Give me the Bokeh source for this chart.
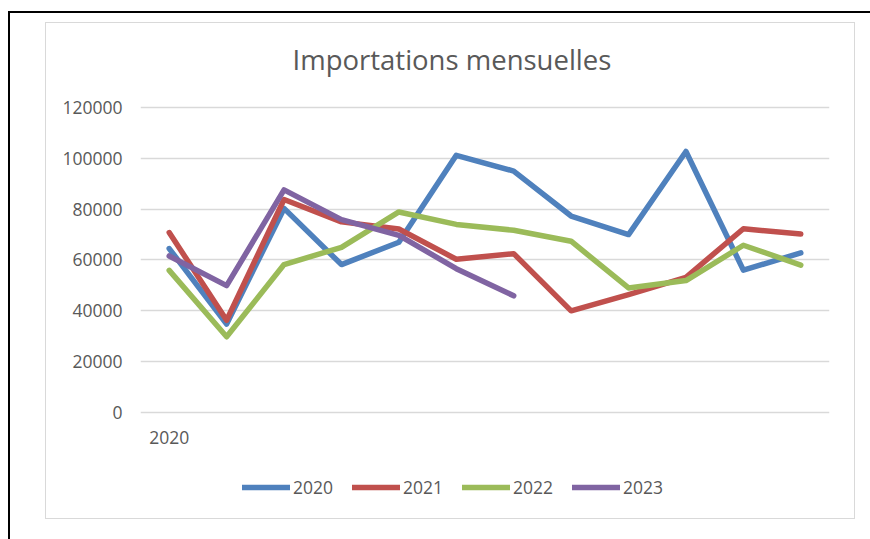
from bokeh.plotting import figure
from bokeh.models import Range1d, FixedTicker, Legend, LegendItem, InlineStyleSheet
from bokeh.embed import file_html
from bokeh.resources import INLINE

months = list(range(1, 13))
x_tick_labels = {1: "2020"}
y_ticks = [0, 20000, 40000, 60000, 80000, 100000, 120000]

years = ["2020", "2021", "2022", "2023"]
y2020 = [64500, 34800, 80300, 58200, 67000, 101200, 95000, 77300, 70000, 102700, 56000, 62800]
y2021 = [70800, 36300, 83800, 75000, 72200, 60300, 62500, 40000, 46400, 53200, 72300, 70200]
y2022 = [55900, 29800, 58200, 65000, 78900, 74000, 71700, 67400, 49000, 51900, 65800, 58000]
y2023 = [61600, 49900, 87600, 75900, 69700, 56600, 45900]
colors = ["#4F81BD", "#C0504D", "#9BBB59", "#8064A2"]

FONT = "Open Sans"
TXT = "#595959"

css = """
:host { position: relative; }
:host::before { content: ""; position: absolute; left: 8px; top: 11px; right: 0; bottom: 0;
  border-left: 2px solid #000; border-top: 2px solid #000; z-index: 50; pointer-events: none; }
:host::after { content: ""; position: absolute; left: 45px; top: 22px; width: 808px; height: 495px;
  border: 1.5px solid #d9d9d9; z-index: 50; pointer-events: none; }
"""

# plot area extends below the zero line to host the legend
p = figure(width=870, height=539, output_backend="svg", toolbar_location=None,
           x_range=Range1d(0.5, 12.5), y_range=Range1d(-38557, 121180),
           frame_width=689, frame_height=406,
           min_border_left=140, min_border_right=41, min_border_top=104, min_border_bottom=29,
           title="Importations mensuelles")
p.stylesheets = [InlineStyleSheet(css=css)]
p.background_fill_color = "white"
p.border_fill_color = "white"
p.outline_line_color = None

p.title.align = "left"
p.title.offset = 152
p.title.text_font = FONT
p.title.text_font_size = "27.5px"
p.title.text_font_style = "normal"
p.title.text_color = TXT
p.title.standoff = 54

p.xaxis.ticker = FixedTicker(ticks=months)
p.xaxis.major_label_overrides = {m: x_tick_labels.get(m, "") for m in months}
p.yaxis.ticker = FixedTicker(ticks=y_ticks)
for ax in (p.xaxis, p.yaxis):
    ax.axis_line_color = None
    ax.major_tick_line_color = None
    ax.minor_tick_line_color = None
    ax.major_tick_out = 0
    ax.major_tick_in = 0
    ax.major_label_text_font = FONT
    ax.major_label_text_font_size = "17.5px"
    ax.major_label_text_color = TXT
p.yaxis.major_label_standoff = 18
p.xaxis.major_label_standoff = -80
p.yaxis.formatter.use_scientific = False

p.xgrid.grid_line_color = None
p.ygrid.grid_line_color = "#d9d9d9"
p.ygrid.grid_line_width = 1.5

series = [y2020, y2021, y2022, y2023]
items = []
for name, ys, c in zip(years, series, colors):
    r = p.line(months[:len(ys)], ys, line_color=c, line_width=5.5,
               line_join="round", line_cap="round")
    items.append(LegendItem(label=name, renderers=[r]))

legend = Legend(items=items, orientation="horizontal", location=(102, 11),
                glyph_width=48, glyph_height=24, label_height=24, label_standoff=3,
                spacing=19, padding=0, margin=0, border_line_color=None,
                background_fill_alpha=0,
                label_text_font=FONT, label_text_font_size="17.5px", label_text_color=TXT)
p.add_layout(legend, "center")

open("out.html", "w").write(file_html(p, INLINE))
